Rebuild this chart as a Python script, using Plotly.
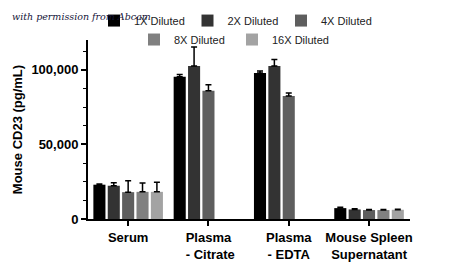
import plotly.graph_objects as go

categories = ["Serum", "Plasma<br> - Citrate", "Plasma<br>- EDTA", "Mouse Spleen<br>Supernatant"]
series_names = ["1X Diluted", "2X Diluted", "4X Diluted", "8X Diluted", "16X Diluted"]
values_1x = [23000, 95300, 97800, 7300]
values_2x = [22300, 102500, 102500, 6400]
values_4x = [18000, 86000, 82500, 6000]
values_8x = [18200, None, None, 6000]
values_16x = [18200, None, None, 6200]
err_1x = [500, 1500, 1500, 600]
err_2x = [2000, 12800, 4500, 400]
err_4x = [7700, 4000, 2000, 300]
err_8x = [6000, None, None, 300]
err_16x = [6500, None, None, 300]
colors = ["#000000", "#333333", "#5e5e5e", "#808080", "#a3a3a3"]

values = [values_1x, values_2x, values_4x, values_8x, values_16x]
errs = [err_1x, err_2x, err_4x, err_8x, err_16x]

# plot area in pixels: x 88..410, y 40..219.3
PL, PW, PT, PH = 88, 322, 40, 179.3
def px(x):
    return (x - PL) / PW
def py(y):
    return (PT + PH - y) / PH

fig = go.Figure()
for i, (name, v, e, c) in enumerate(zip(series_names, values, errs, colors)):
    fig.add_trace(go.Bar(
        x=categories, y=v, name=name, marker=dict(color=c, line=dict(width=0)),
        error_y=dict(type="data", symmetric=False, array=e,
                     arrayminus=[0 if x is not None else None for x in e],
                     color="#000000", thickness=1.5, width=3),
        legend="legend" if i < 3 else "legend2",
    ))

fig.update_layout(
    width=450, height=275,
    margin=dict(l=88, r=40, t=40, b=55.7, autoexpand=False),
    paper_bgcolor="white", plot_bgcolor="white",
    barmode="group", bargap=0.105, bargroupgap=0.16,
    font=dict(family="Liberation Sans, Arial, sans-serif", color="#000000"),
    showlegend=True,
    legend=dict(orientation="h", xref="paper", yref="paper",
                x=px(94), y=py(6), xanchor="left", yanchor="top",
                font=dict(size=11, color="#222222"), entrywidth=48.5,
                bgcolor="rgba(0,0,0,0)", itemclick=False),
    legend2=dict(orientation="h", xref="paper", yref="paper",
                 x=px(134), y=py(25), xanchor="left", yanchor="top",
                 font=dict(size=11, color="#222222"), entrywidth=53,
                 bgcolor="rgba(0,0,0,0)", itemclick=False),
    xaxis=dict(type="category", range=[-0.5, 3.51], showline=True, linecolor="#000000",
               linewidth=2, ticks="outside", ticklen=5, tickwidth=1.5, tickcolor="#000000",
               tickfont=dict(size=13, family="Liberation Sans, Arial", weight="bold"),
               showgrid=False, zeroline=False, fixedrange=True),
    yaxis=dict(range=[0, 120000], showline=True, linecolor="#000000", linewidth=2,
               tickvals=[0, 50000, 100000], ticktext=["0", "50,000", "100,000"],
               ticks="outside", ticklen=5, tickwidth=1.5, tickcolor="#000000",
               minor=dict(dtick=12500, tick0=0, ticks="outside", ticklen=3, tickwidth=1, tickcolor="#000000"),
               tickfont=dict(size=13, family="Liberation Sans, Arial", weight="bold"),
               title=dict(text="Mouse CD23 (pg/mL)", font=dict(size=13, weight="bold"), standoff=6),
               showgrid=False, zeroline=False, fixedrange=True),
)
fig.add_annotation(text="with permission from Abcam", xref="paper", yref="paper",
                   x=px(10), y=py(16), xanchor="left", yanchor="middle", showarrow=False,
                   font=dict(family="DejaVu Serif", size=9.5, color="#15153a", style="italic"))
fig.write_html("out.html")
